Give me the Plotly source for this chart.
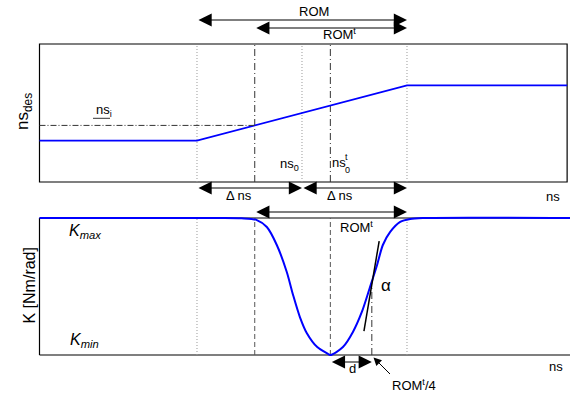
import plotly.graph_objects as go

W, H = 570, 399
FONT = "Liberation Sans, Arial, Helvetica, sans-serif"

# ---------------- data (schematic units) ----------------
# top panel: desired ns profile
ns_x = [0, 30, 70, 100.5]
ns_des = [3.0, 3.0, 7.0, 7.0]
ns_i_x = [0, 41]
ns_i_y = [4.1, 4.1]

# bottom panel: stiffness profile K(ns), normalised (Kmin = 0, Kmax = 1)
k_x = [0, 33.0, 38.5, 41.4, 43.3, 45.2, 47.1, 48.3, 49.6, 50.9, 52.9, 54.8, 55.4,
       57.8, 59.7, 61.4, 62.9, 64.3, 65.4, 66.8, 68.7, 70.6, 73.0, 101.05]
k_val = [1.0, 1.0, 0.998, 0.985, 0.934, 0.803, 0.606, 0.438, 0.277, 0.161, 0.058, 0.012, 0.0,
         0.058, 0.168, 0.314, 0.489, 0.657, 0.803, 0.898, 0.971, 0.993, 1.0, 1.0]

# key positions on the ns axis
rom_lo, rom_hi = 30, 70
romt_lo = 41
ns0 = 50
ns0t = 55.4
quarter = 63.3
tangent_x = [61.8, 64.7]
tangent_k = [0.175, 0.832]

# ---------------- pixel geometry ----------------
X0PX, PXU = 39.5, 5.25          # x value 0 at px 39.5, 5.25 px per unit
TY0, TYU = 182.0, 13.8          # top panel: value 0 at py 182
BY0, BYU = 355.0, 137.0         # bottom panel: K=0 at py 355


def xpx(v):
    return X0PX + PXU * v


xr_top = [-0.3, 100.8]
xr_bot = [-0.3, (W - X0PX) / PXU]
yr_top = [-0.15, 10.15]
yr_bot = [-0.03, 1.03]

xdom_top = [xpx(xr_top[0]) / W, xpx(xr_top[1]) / W]
xdom_bot = [xpx(xr_bot[0]) / W, 1.0]
ydom_top = [1 - (TY0 - yr_top[0] * TYU) / H, 1 - (TY0 - yr_top[1] * TYU) / H]
ydom_bot = [1 - (BY0 - yr_bot[0] * BYU) / H, 1 - (BY0 - yr_bot[1] * BYU) / H]

BLUE = "#0000ff"

fig = go.Figure()
fig.add_trace(go.Scatter(x=ns_x, y=ns_des, mode="lines",
                         line=dict(color=BLUE, width=1.8), xaxis="x", yaxis="y"))
fig.add_trace(go.Scatter(x=ns_i_x, y=ns_i_y, mode="lines",
                         line=dict(color="#333333", width=1, dash="6px,2px,1px,2px"),
                         xaxis="x", yaxis="y"))
fig.add_trace(go.Scatter(x=k_x, y=k_val, mode="lines",
                         line=dict(color=BLUE, width=2, shape="spline", smoothing=0.8),
                         xaxis="x2", yaxis="y2"))
fig.add_trace(go.Scatter(x=tangent_x, y=tangent_k, mode="lines",
                         line=dict(color="black", width=1.5), xaxis="x2", yaxis="y2"))

STY = {
    "dot": dict(color="#9a9a9a", width=1, dash="1px,2px"),
    "dash": dict(color="#555555", width=1, dash="5px,3px"),
    "dashdot": dict(color="#333333", width=1, dash="7px,3px,1px,3px"),
}

shapes = []
# panel borders
shapes.append(dict(type="rect", xref="x", yref="y", x0=0, x1=100.5, y0=0, y1=10,
                   line=dict(color="black", width=1.2), layer="below"))
for (x0, x1, y0, y1) in [(0, 0, 0, 1), (0, xr_bot[1], 0, 0), (0, xr_bot[1], 1, 1)]:
    shapes.append(dict(type="line", xref="x2", yref="y2", x0=x0, x1=x1, y0=y0, y1=y1,
                       line=dict(color="black", width=1.2), layer="below"))
# vertical guide lines
for v, s in [(rom_lo, "dot"), (romt_lo, "dashdot"), (ns0, "dot"), (ns0t, "dashdot"), (rom_hi, "dot")]:
    shapes.append(dict(type="line", xref="x", yref="y", x0=v, x1=v, y0=0, y1=10,
                       line=STY[s], layer="below"))
for v, s, a, b in [(rom_lo, "dot", 0, 1), (romt_lo, "dash", 0, 1), (ns0t, "dash", 0, 1),
                   (quarter, "dashdot", 0, 0.5), (rom_hi, "dot", 0, 1)]:
    shapes.append(dict(type="line", xref="x2", yref="y2", x0=v, x1=v, y0=a, y1=b,
                       line=STY[s], layer="below"))
# underline of ns_i label
shapes.append(dict(type="line", xref="paper", yref="paper", x0=93 / W, x1=110 / W,
                   y0=1 - 118.3 / H, y1=1 - 118.3 / H, line=dict(color="#333333", width=1)))

anns = []


def T(text, px, py, size=13, xanchor="center", yanchor="middle", angle=0, color="black"):
    anns.append(dict(text=text, x=px / W, y=1 - py / H, xref="paper", yref="paper",
                     showarrow=False, xanchor=xanchor, yanchor=yanchor, textangle=angle,
                     font=dict(family=FONT, size=size, color=color)))


def HA(xa, xb, py, xref="x"):
    anns.append(dict(text="", x=xb, y=1 - py / H, xref=xref, yref="paper",
                     ax=xa, ay=0, axref=xref, ayref="pixel",
                     showarrow=True, arrowside="end+start", arrowhead=2,
                     arrowsize=2.2, arrowwidth=1.2, arrowcolor="black", standoff=0,
                     startstandoff=0))


# top annotations
T("ROM", 313.5, 11)
HA(rom_lo, rom_hi, 20)
T("ROM<sup>t</sup>", 339.5, 34)
HA(romt_lo, rom_hi, 28)
T("ns<sub>i</sub>", 93.5, 110, xanchor="left")
T("ns<sub>0</sub>", 301, 165, xanchor="right")
T("ns", 330, 162, xanchor="left")
T("t", 346.5, 157, size=9)
T("0", 347.5, 170, size=9)
HA(rom_lo, ns0, 188)
HA(ns0, rom_hi, 188)
T("\u0394 ns", 239.5, 195)
T("\u0394 ns", 339.5, 195)
T("ns", 553, 196)
T("ns<sub>des</sub>", 24, 112, size=17, angle=-90)

# bottom annotations
T("K [Nm/rad]", 28.5, 286, size=16, angle=-90)
T("<i>K<sub>max</sub></i>", 67, 231, size=16, xanchor="left")
T("<i>K<sub>min</sub></i>", 68, 340, size=16, xanchor="left")
HA(romt_lo, rom_hi, 212, xref="x2")
T("ROM<sup>t</sup>", 357, 227)
T("\u03b1", 385.5, 285, size=17)
HA(ns0t, quarter, 362, xref="x2")
T("d", 352, 368)
T("ROM<sup>t</sup>/4", 413.5, 385)
anns.append(dict(text="", x=373.5 / W, y=1 - 357.5 / H, xref="paper", yref="paper",
                 ax=18, ay=18, axref="pixel", ayref="pixel", showarrow=True,
                 arrowhead=2, arrowsize=1.6, arrowwidth=1, arrowcolor="black", standoff=0))
T("ns", 556, 366)

ax_common = dict(visible=False, showgrid=False, zeroline=False, fixedrange=True)
fig.update_layout(
    width=W, height=H, margin=dict(l=0, r=0, t=0, b=0),
    paper_bgcolor="white", plot_bgcolor="white", showlegend=False,
    xaxis=dict(domain=xdom_top, range=xr_top, anchor="y", **ax_common),
    yaxis=dict(domain=ydom_top, range=yr_top, anchor="x", **ax_common),
    xaxis2=dict(domain=xdom_bot, range=xr_bot, anchor="y2", **ax_common),
    yaxis2=dict(domain=ydom_bot, range=yr_bot, anchor="x2", **ax_common),
    shapes=shapes, annotations=anns,
)

fig.write_html("out.html")
